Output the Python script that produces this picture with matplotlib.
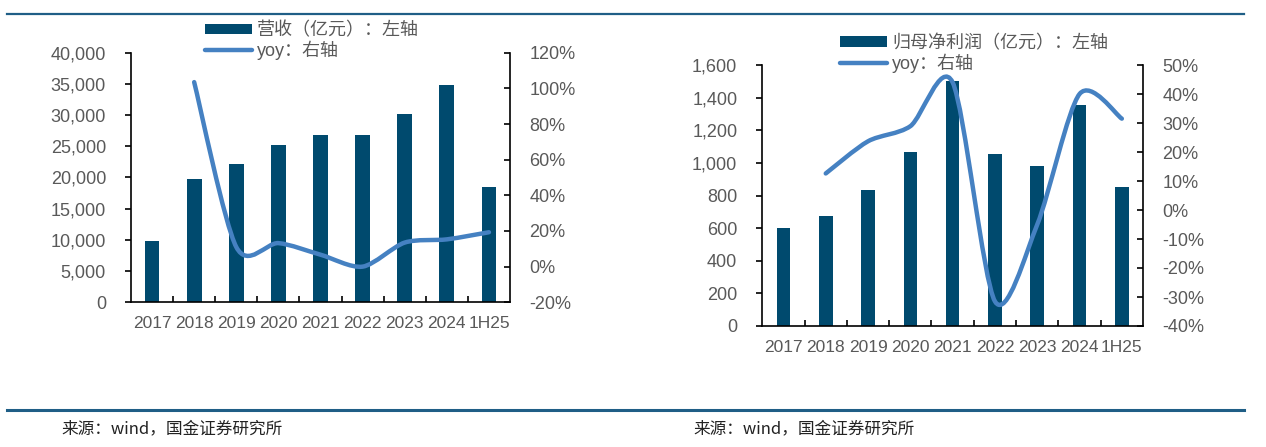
import matplotlib
matplotlib.use("Agg")
import matplotlib.pyplot as plt
from matplotlib.path import Path
from matplotlib.patches import PathPatch, Patch
from matplotlib.lines import Line2D
import numpy as np

plt.rcParams['font.family'] = ['Liberation Sans', 'Noto Sans CJK SC']

# --- data ---
years = ['2017', '2018', '2019', '2020', '2021', '2022', '2023', '2024', '1H25']
revenue = [9800, 19700, 22150, 25200, 26850, 26850, 30150, 34800, 18550]
revenue_yoy = [None, 103.5, 11.0, 13.2, 6.7, 0.0, 13.5, 15.3, 19.3]
profit = [598, 672, 832, 1065, 1502, 1055, 981, 1352, 852]
profit_yoy = [None, 12.6, 23.7, 28.9, 44.0, -31.5, -5.0, 40.0, 31.5]

rev_label = '营收（亿元）：左轴'
profit_label = '归母净利润（亿元）：左轴'
yoy_label = 'yoy：右轴'
source_text = '来源：wind，国金证券研究所'

BAR_COLOR = '#004A6E'
LINE_COLOR = '#4581C2'
TEXT_COLOR = '#595959'
RULE_COLOR = '#1F5E86'
W, H = 1266, 447


def smooth_path(xs, ys, k=0.14):
    # Excel-style smoothed line: cubic bezier segments through every point
    pts = np.column_stack([xs, ys])
    verts = [pts[0]]
    codes = [Path.MOVETO]
    n = len(pts)
    for i in range(n - 1):
        p0 = pts[i - 1] if i > 0 else pts[i]
        p1, p2 = pts[i], pts[i + 1]
        p3 = pts[i + 2] if i + 2 < n else pts[i + 1]
        c1 = p1 + (p2 - p0) * k
        c2 = p2 - (p3 - p1) * k
        verts += [c1, c2, p2]
        codes += [Path.CURVE4] * 3
    return Path(verts, codes)


def draw_panel(rect, bars, yoy, bar_lim, bar_step, yoy_lim, yoy_step, bar_width,
               bar_label, legend_xy):
    ax = fig.add_axes(rect)
    x = np.arange(len(years))
    ax.bar(x, bars, width=bar_width, color=BAR_COLOR, zorder=2)
    ax.set_xlim(-0.5, len(years) - 0.5)
    ax.set_ylim(*bar_lim)
    ax.set_yticks(np.arange(bar_lim[0], bar_lim[1] + 1, bar_step))
    ax.yaxis.set_major_formatter(matplotlib.ticker.FuncFormatter(lambda v, p: f'{v:,.0f}'))
    ax.set_xticks(x)
    ax.set_xticklabels(years)
    ax.set_xticks(np.arange(0.5, len(years) - 1, 1.0), minor=True)
    ax.tick_params(axis='x', which='major', length=0, pad=10, labelsize=12.5, colors=TEXT_COLOR)
    ax.tick_params(axis='x', which='minor', direction='in', length=4, width=1.2, color='black')
    ax.tick_params(axis='y', direction='out', length=4, width=1.2, pad=14,
                   labelsize=13, labelcolor=TEXT_COLOR, color='black')
    ax.spines['top'].set_visible(False)
    ax.spines['right'].set_visible(False)
    for s in ('left', 'bottom'):
        ax.spines[s].set_linewidth(1.2)

    ax2 = ax.twinx()
    ax2.set_ylim(*yoy_lim)
    ax2.set_yticks(np.arange(yoy_lim[0], yoy_lim[1] + 1, yoy_step))
    ax2.yaxis.set_major_formatter(matplotlib.ticker.FuncFormatter(lambda v, p: f'{v:.0f}%'))
    ax2.tick_params(axis='y', direction='in', length=4, width=1.2, pad=14,
                    labelsize=13, labelcolor=TEXT_COLOR, color='black')
    for s in ('top', 'left', 'bottom'):
        ax2.spines[s].set_visible(False)
    ax2.spines['right'].set_linewidth(1.2)

    xs = [i for i, v in enumerate(yoy) if v is not None]
    ys = [v for v in yoy if v is not None]
    ax2.add_patch(PathPatch(smooth_path(xs, ys), facecolor='none', edgecolor=LINE_COLOR,
                            lw=3.2, capstyle='round', joinstyle='round', zorder=3))

    handles = [Patch(facecolor=BAR_COLOR, edgecolor='none'),
               Line2D([], [], color=LINE_COLOR, lw=3.2, solid_capstyle='round')]
    fig.legend(handles, [bar_label, yoy_label], loc='upper left',
               bbox_to_anchor=(legend_xy[0] / W, 1 - legend_xy[1] / H),
               frameon=False, fontsize=13, labelcolor=TEXT_COLOR, borderpad=0,
               borderaxespad=0, handlelength=2.6, handleheight=0.55,
               handletextpad=0.3, labelspacing=0.05)
    return ax


fig = plt.figure(figsize=(W / 100, H / 100), dpi=100)

# left panel: revenue
draw_panel([131 / W, 1 - 302.3 / H, 379 / W, 249.6 / H], revenue, revenue_yoy,
           (0, 40000), 5000, (-20, 120), 20, 0.35, rev_label, (205, 22))

# right panel: net profit
draw_panel([762.3 / W, 1 - 326 / H, 380.7 / W, 261 / H], profit, profit_yoy,
           (0, 1600), 200, (-40, 50), 10, 0.32, profit_label, (840, 35))

# horizontal rules
fig.add_artist(Line2D([7 / W, 1244 / W], [1 - 14 / H, 1 - 14 / H], color=RULE_COLOR, lw=1.6))
fig.add_artist(Line2D([7 / W, 1244 / W], [1 - 409.5 / H, 1 - 409.5 / H], color=RULE_COLOR, lw=2.2))

# sources
for x0 in (61, 693):
    fig.text(x0 / W, 1 - 429 / H, source_text, fontsize=12, color='#222222',
             family=['Noto Sans CJK SC', 'DejaVu Sans'], va='center', ha='left')

fig.savefig('out.png', dpi=100)
